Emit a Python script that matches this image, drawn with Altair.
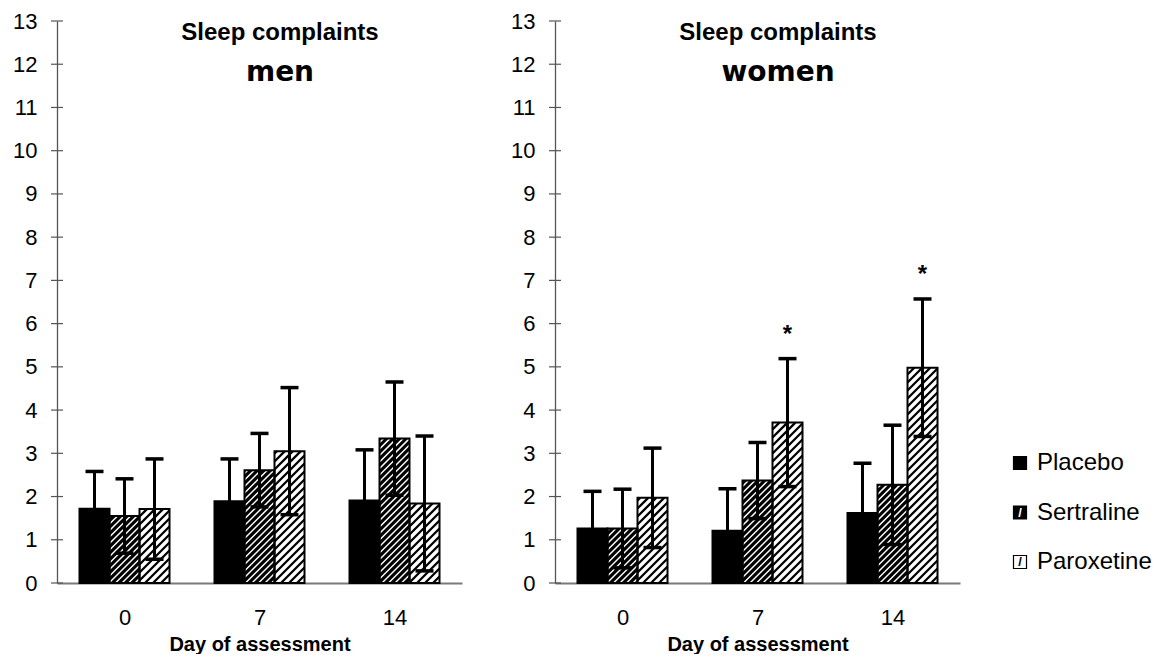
import json
import numpy as np
import pandas as pd
import altair as alt

# ---------------- data ----------------
days = ["0", "7", "14"]
treatments = ["Placebo", "Sertraline", "Paroxetine"]
heading = "Sleep complaints"
panel_names = ["men", "women"]
x_title = "Day of assessment"
y_ticks = list(range(0, 14))

men_placebo_mean = [1.72, 1.89, 1.91]
men_placebo_sd = [0.86, 0.98, 1.17]
men_sertraline_mean = [1.55, 2.61, 3.34]
men_sertraline_sd = [0.86, 0.85, 1.31]
men_paroxetine_mean = [1.71, 3.05, 1.84]
men_paroxetine_sd = [1.16, 1.47, 1.56]
men_paroxetine_sig = [False, False, False]

women_placebo_mean = [1.26, 1.21, 1.62]
women_placebo_sd = [0.86, 0.97, 1.15]
women_sertraline_mean = [1.26, 2.37, 2.27]
women_sertraline_sd = [0.91, 0.88, 1.38]
women_paroxetine_mean = [1.97, 3.71, 4.98]
women_paroxetine_sd = [1.15, 1.48, 1.59]
women_paroxetine_sig = [False, True, True]

# ---------------- layout ----------------
W, H = 405, 562
Y_MAX = 13
PX_X = W / 3.0
PX_Y = H / Y_MAX
BAR_W = 30.0 / PX_X
FONT = "Liberation Sans"


def build(means, sds, sigs):
    rows = []
    for t, name in enumerate(treatments):
        for g, day in enumerate(days):
            m, s = means[t][g], sds[t][g]
            c = g + (t - 1) * BAR_W
            rows.append(dict(treatment=name, day=day, mean=m, sd=s, lo=m - s, hi=m + s,
                             xc=c, x0=c - BAR_W / 2, x1=c + BAR_W / 2, sig=bool(sigs[t][g])))
    return pd.DataFrame(rows)


def hatch(df, name, spacing):
    segs = []
    for r in df[df.treatment == name].itertuples():
        xa = (r.x0 + 0.5) * PX_X
        xb = (r.x1 + 0.5) * PX_X
        h = r.mean * PX_Y
        k = np.floor((xa - h) / spacing) * spacing
        while k <= xb:
            ylo = max(0.0, xa - k)
            yhi = min(h, xb - k)
            if yhi - ylo > 0.8:
                segs.append(dict(hx=(ylo + k) / PX_X - 0.5, hx2=(yhi + k) / PX_X - 0.5,
                                 hy=ylo / PX_Y, hy2=yhi / PX_Y))
            k += spacing
    return pd.DataFrame(segs)


def panel(df, word, with_legend):
    xs = alt.Scale(domain=[-0.5, 2.5], nice=False, zero=False)
    ys = alt.Scale(domain=[0, Y_MAX], nice=False, zero=True)
    base = alt.Chart(df)

    x_axis = alt.Axis(
        values=[0, 1, 2], labelExpr=f"{json.dumps(days)}[datum.value]",
        ticks=False, grid=False, title=x_title, labelFontSize=22, labelPadding=24,
        labelColor="black", domainColor="#7a7a7a", domainWidth=2,
        titleFontSize=20, titleFontWeight="bold", titleColor="black", titlePadding=6,
        labelFont=FONT, titleFont=FONT, labelFlush=False)
    y_axis = alt.Axis(
        values=y_ticks, ticks=False, grid=False, title=None, labelFontSize=22,
        labelPadding=20, labelColor="black", domainColor="#555555", domainWidth=1.3,
        labelFont=FONT, labelFlush=False)

    bars = base.mark_bar(strokeWidth=0).encode(
        x=alt.X("x0:Q", scale=xs, axis=x_axis),
        x2="x1:Q",
        y=alt.Y("mean:Q", scale=ys, axis=y_axis),
        y2=alt.datum(0),
        fill=alt.Fill("treatment:N", scale=alt.Scale(domain=treatments,
                      range=["#000000", "#000000", "#ffffff"]), legend=None),
    )
    hs = alt.Chart(hatch(df, "Sertraline", 6.5)).mark_rule(color="white", strokeWidth=1.5).encode(
        x=alt.X("hx:Q", scale=xs, axis=x_axis), x2="hx2:Q",
        y=alt.Y("hy:Q", scale=ys, axis=y_axis), y2="hy2:Q")
    hp = alt.Chart(hatch(df, "Paroxetine", 8.0)).mark_rule(color="black", strokeWidth=2.3).encode(
        x=alt.X("hx:Q", scale=xs, axis=x_axis), x2="hx2:Q",
        y=alt.Y("hy:Q", scale=ys, axis=y_axis), y2="hy2:Q")
    outline = base.mark_bar(fillOpacity=0, stroke="black", strokeWidth=2).encode(
        x=alt.X("x0:Q", scale=xs, axis=x_axis), x2="x1:Q",
        y=alt.Y("mean:Q", scale=ys, axis=y_axis), y2=alt.datum(0))
    err = base.mark_rule(color="black", strokeWidth=3).encode(
        x=alt.X("xc:Q", scale=xs, axis=x_axis),
        y=alt.Y("lo:Q", scale=ys, axis=y_axis), y2="hi:Q")
    cap_hi = base.mark_tick(orient="horizontal", size=18, thickness=3.5, color="black",
                            opacity=1).encode(
        x=alt.X("xc:Q", scale=xs, axis=x_axis), y=alt.Y("hi:Q", scale=ys, axis=y_axis))
    cap_lo = base.mark_tick(orient="horizontal", size=18, thickness=3.5, color="black",
                            opacity=1).encode(
        x=alt.X("xc:Q", scale=xs, axis=x_axis), y=alt.Y("lo:Q", scale=ys, axis=y_axis))
    star = base.transform_filter("datum.sig").mark_text(
        text="*", fontSize=24, fontWeight="bold", font=FONT, dy=-17, baseline="alphabetic",
        color="black").encode(
        x=alt.X("xc:Q", scale=xs, axis=x_axis), y=alt.Y("hi:Q", scale=ys, axis=y_axis))
    ticks = alt.Chart(pd.DataFrame({"v": y_ticks})).mark_tick(
        orient="horizontal", size=12, thickness=1.2, color="#555555", opacity=1).encode(
        y=alt.Y("v:Q", scale=ys, axis=y_axis), x=alt.value(0))
    t1 = alt.Chart(pd.DataFrame({"t": [heading]})).mark_text(
        font=FONT, fontSize=24, fontWeight="bold", align="center", baseline="alphabetic",
        color="black").encode(text="t:N", x=alt.value(223), y=alt.value(18.5))
    t2 = alt.Chart(pd.DataFrame({"t": [word]})).mark_text(
        font="DejaVu Sans", fontSize=28, fontWeight="bold", align="center",
        baseline="alphabetic", color="black").encode(text="t:N", x=alt.value(223), y=alt.value(60))

    values = alt.layer(bars, hs, hp, outline, err, cap_hi, cap_lo, ticks, star, t1, t2).properties(
        width=W, height=H)
    if not with_legend:
        return values

    leg = alt.Chart(pd.DataFrame({"treatment": treatments}))
    ly = alt.Y("treatment:N", scale=alt.Scale(domain=treatments, range=[442, 541], padding=0),
               axis=None)
    sw = leg.mark_square(size=169, stroke="black", strokeWidth=1.2, opacity=1).encode(
        x=alt.value(465), y=ly,
        fill=alt.Fill("treatment:N", scale=alt.Scale(domain=treatments,
                      range=["#000000", "#000000", "#ffffff"]), legend=None))
    sl = leg.mark_text(text="/", font=FONT, fontSize=13, fontWeight="bold", baseline="middle").encode(
        x=alt.value(465), y=ly,
        color=alt.Color("treatment:N", scale=alt.Scale(domain=treatments,
                        range=["#000000", "#ffffff", "#000000"]), legend=None))
    lt = leg.mark_text(font=FONT, fontSize=24, align="left", baseline="middle", color="black").encode(
        x=alt.value(482), y=ly, text="treatment:N")
    legend_layer = alt.layer(sw, sl, lt)
    return alt.layer(values, legend_layer).resolve_scale(y="independent").properties(
        width=W, height=H)


men = build([men_placebo_mean, men_sertraline_mean, men_paroxetine_mean],
            [men_placebo_sd, men_sertraline_sd, men_paroxetine_sd],
            [[False] * 3, [False] * 3, men_paroxetine_sig])
women = build([women_placebo_mean, women_sertraline_mean, women_paroxetine_mean],
              [women_placebo_sd, women_sertraline_sd, women_paroxetine_sd],
              [[False] * 3, [False] * 3, women_paroxetine_sig])

chart = alt.hconcat(
    panel(men, panel_names[0], False),
    panel(women, panel_names[1], True),
    spacing=93, bounds="flush",
).properties(
    padding={"left": 4, "top": 2, "right": 4, "bottom": 0},
    background="white",
).configure_view(stroke=None)

chart.save("out.html", embed_options={"renderer": "svg", "actions": False})
